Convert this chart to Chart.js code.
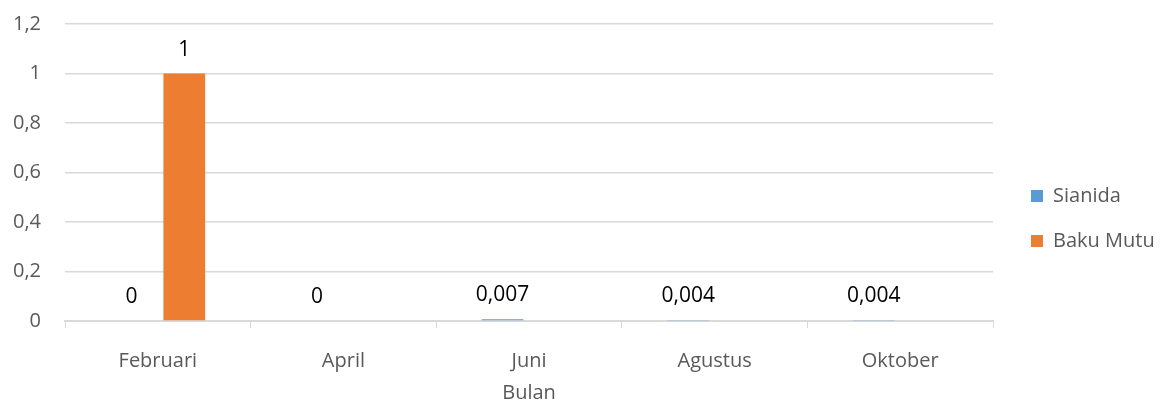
<!DOCTYPE html>
<html>
<head>
<meta charset="utf-8">
<script src="https://cdn.jsdelivr.net/npm/chart.js@4/dist/chart.umd.min.js"></script>
<style>
  html, body { margin: 0; padding: 0; background: #fff; }
  #wrap { width: 1169px; height: 403px; position: relative; }
</style>
</head>
<body>
<div id="wrap"><canvas id="chart"></canvas></div>
<script>
// Sianida vs Baku Mutu per bulan
const months = ['Februari', 'April', 'Juni', 'Agustus', 'Oktober'];
const sianida = [0, 0, 0.007, 0.004, 0.004];
const bakuMutu = [1, null, null, null, null];
const yTicks = [0, 0.2, 0.4, 0.6, 0.8, 1, 1.2];

const fontFamily = '"Open Sans", sans-serif';
const fmt = v => String(+v.toFixed(3)).replace('.', ',');

// value labels above bars (Excel-style)
const barLabels = {
  id: 'barLabels',
  afterDatasetsDraw(chart) {
    const ctx = chart.ctx;
    ctx.save();
    ctx.font = '21px ' + fontFamily;
    ctx.fillStyle = '#000';
    ctx.textAlign = 'center';
    ctx.textBaseline = 'alphabetic';
    chart.data.datasets.forEach((ds, i) => {
      chart.getDatasetMeta(i).data.forEach((bar, j) => {
        const v = ds.data[j];
        if (v === null || v === undefined) return;
        ctx.fillText(fmt(v), bar.x, bar.y - 18);
      });
    });
    ctx.restore();
  }
};

// fixed legend column, nudged like the reference
const legendPlace = {
  id: 'legendPlace',
  afterInit(chart) {
    const lg = chart.legend;
    const fit = lg.fit.bind(lg);
    lg.fit = function () { fit(); this.width = 176; };
  },
  afterLayout(chart) {
    const lg = chart.legend;
    lg.left += 13; lg.right += 13;
    lg.top += 17; lg.bottom += 17;
  }
};

new Chart(document.getElementById('chart'), {
  type: 'bar',
  data: {
    labels: months,
    datasets: [
      { label: 'Sianida', data: sianida, backgroundColor: '#5b9bd5' },
      { label: 'Baku Mutu', data: bakuMutu, backgroundColor: '#ed7d31' }
    ]
  },
  options: {
    responsive: true,
    maintainAspectRatio: false,
    animation: false,
    datasets: { bar: { categoryPercentage: 0.57, barPercentage: 0.79 } },
    layout: { padding: { top: 0, right: 0, left: -11, bottom: 0 } },
    plugins: {
      legend: {
        position: 'right',
        align: 'center',
        labels: {
          boxWidth: 12, boxHeight: 12, padding: 25,
          color: '#595959',
          font: { size: 20, family: fontFamily }
        }
      },
      tooltip: { enabled: false }
    },
    scales: {
      x: {
        offset: true,
        grid: { offset: true, drawOnChartArea: false, drawTicks: true, tickLength: 7, color: '#d9d9d9' },
        border: { color: '#d9d9d9', width: 2 },
        ticks: { color: '#595959', font: { size: 20, family: fontFamily }, padding: 21 },
        title: { display: true, text: 'Bulan', color: '#595959', font: { size: 20, family: fontFamily, lineHeight: 1 }, padding: { top: -11, bottom: 0 } }
      },
      y: {
        min: 0, max: 1.2,
        afterBuildTicks: axis => { axis.ticks = yTicks.map(v => ({ value: v })); },
        afterFit: axis => { axis.paddingTop = 24; },
        grid: { color: '#d9d9d9', lineWidth: 1.5, drawTicks: false },
        border: { display: false },
        ticks: { color: '#595959', font: { size: 20, family: fontFamily }, padding: 24, callback: v => fmt(v) }
      }
    }
  },
  plugins: [barLabels, legendPlace]
});
</script>
</body>
</html>
